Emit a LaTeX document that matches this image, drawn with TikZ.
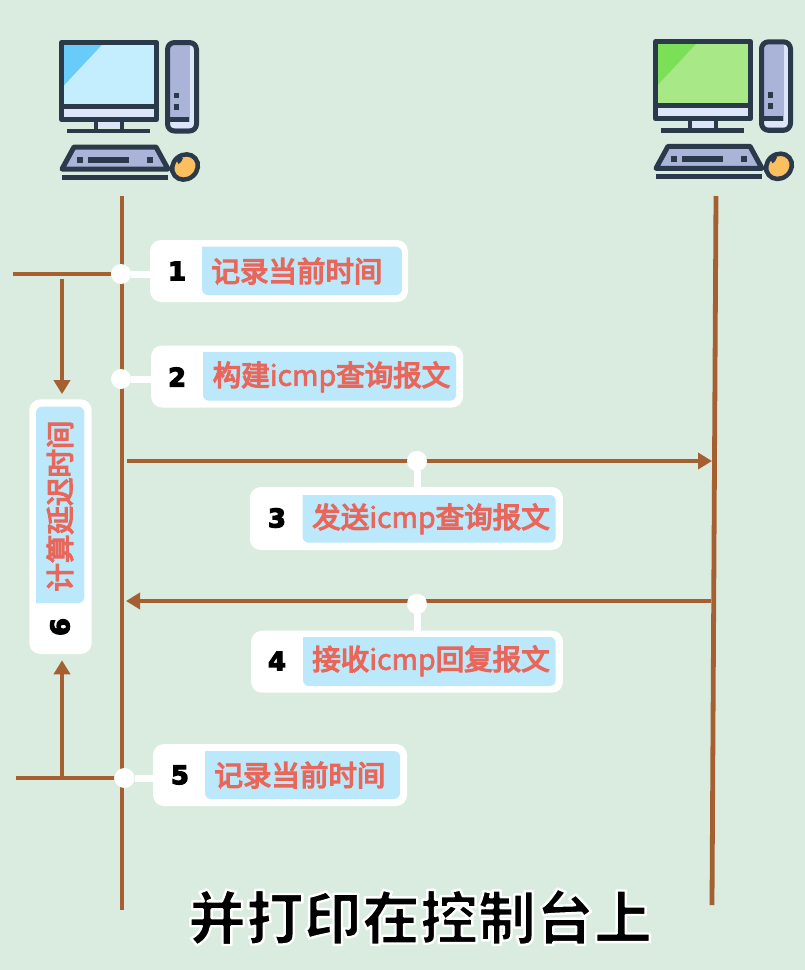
\documentclass[tikz,border=0pt]{standalone}
\usepackage{fontspec}
\usetikzlibrary{arrows.meta,calc}
\newfontfamily\cjk{Noto Sans CJK SC}
\newfontfamily\cjkm[FakeBold=4.5]{Noto Sans CJK SC}
\newfontfamily\cjkl[FakeBold=2]{Noto Sans CJK SC}
\newfontfamily\numfont[BoldFeatures={FakeBold=5}]{DejaVu Sans}
\definecolor{bgc}{HTML}{D9ECDF}
\definecolor{panelc}{HTML}{BBE9FB}
\definecolor{redc}{HTML}{E8665A}
\definecolor{brownc}{HTML}{A65F30}
\definecolor{darkc}{HTML}{2B3A4B}
\definecolor{lavc}{HTML}{AAB4D9}
\definecolor{lightc}{HTML}{DDE6F8}
\definecolor{mousec}{HTML}{FBBF5F}
\definecolor{blues}{HTML}{C4EDFE}
\definecolor{bluesh}{HTML}{68CBFA}
\definecolor{greens}{HTML}{A9E886}
\definecolor{greensh}{HTML}{7BE058}
\newcommand\icmpw{{\cjkl\mdseries\fontsize{28.5pt}{28.5pt}\selectfont icmp}}
\tikzset{
  whitebox/.style={fill=white,draw=none,rounded corners=11pt,inner sep=0pt},
  joint/.style={circle,fill=white,draw=none,minimum size=20pt,inner sep=0pt},
  tie/.style={draw=white,line width=7pt},
  life/.style={draw=brownc,line width=4.8pt},
  wire/.style={draw=brownc,line width=4.8pt},
  flow/.style={draw=brownc,line width=4.8pt,-{Triangle[width=16pt,length=14pt]}},
  numtxt/.style={inner sep=0pt,font=\numfont\bfseries\fontsize{25.5pt}{25.5pt}\selectfont,text=black},
  labeltxt/.style={inner sep=0pt,font=\cjkm\fontsize{28.5pt}{28.5pt}\selectfont,text=redc},
  ink/.style={draw=darkc,line width=5pt,line join=round},
}
\newcommand\computer[4]{%
\begin{scope}[shift={(#1,#2)}]
  % monitor
  \fill[#3] (61.5,42.5) rectangle (156.5,107);
  \fill[#4] (61.5,42.5) -- (104,42.5) -- (61.5,88) -- cycle;
  \fill[lightc] (61.5,107) rectangle (156.5,119.5);
  \draw[ink] (61.5,42.5) rectangle (156.5,119.5);
  \draw[ink] (61.5,106.5) -- (156.5,106.5);
  % stand
  \fill[lightc] (97,122) rectangle (121,128);
  \draw[darkc,line width=4pt] (96,120) -- (96,129) (122,120) -- (122,129);
  \draw[darkc,line width=4.6pt] (67,131) -- (150,131);
  % tower
  \fill[lavc,rounded corners=5pt] (167.5,42.5) rectangle (196.5,131);
  \fill[lightc] (190,46) rectangle (194,128);
  \fill[lightc] (170,122) rectangle (194,128);
  \draw[ink,rounded corners=7pt] (167.5,42.5) rectangle (196.5,131);
  \fill[darkc] (174.3,92.7) rectangle (179.3,98.3);
  \fill[darkc] (174.3,104) rectangle (179.3,110);
  \draw[darkc,line width=4.8pt] (167,119.3) -- (188.5,119.3);
  % keyboard
  \draw[ink,fill=lavc] (74,147) -- (156,147) -- (168,169) -- (62,169) -- cycle;
  \fill[darkc] (76.7,157) rectangle (82.7,163);
  \fill[darkc] (87.7,157) rectangle (129.3,163);
  \fill[darkc] (147,157) rectangle (153,163);
  \draw[darkc,line width=5pt] (62,177.5) -- (167.7,177.5);
  % mouse
  \draw[darkc,line width=4.5pt,fill=mousec,rotate around={40:(185,167)}] (185,167) ellipse (13.5pt and 12pt);
  \fill[darkc] (178,157) -- (183,158) -- (181,162) -- (178.5,164) -- (176.5,160) -- cycle;
\end{scope}}
\begin{document}
\begin{tikzpicture}[x=1pt,y=-1pt]
\useasboundingbox (0,0) rectangle (805,970);
\fill[bgc] (0,0) rectangle (805,970);
\computer{0}{0}{blues}{bluesh}
\computer{594}{-0.7}{greens}{greensh}

% named free ends
\coordinate (ltop) at (122,196);
\coordinate (lbot) at (122,910);
\coordinate (rtop) at (716,196);
\coordinate (rbot) at (712,905);
\coordinate (w1) at (13,274);
\coordinate (w5) at (16,778);
\coordinate (s6a) at (62,279);
\coordinate (s6b) at (62,776);
\coordinate (a3s) at (127,461);
\coordinate (a3e) at (712,461);
\coordinate (a4s) at (711,601);
\coordinate (a4e) at (126,601);

\draw[life] (ltop) -- (lbot);
\draw[life] (rtop) -- (rbot);

% boxes
\node[whitebox,minimum width=258pt,minimum height=62pt] (b1) at (279,271) {};
\node[whitebox,minimum width=312pt,minimum height=62pt] (b2) at (307,376.5) {};
\node[whitebox,minimum width=313pt,minimum height=63pt] (b3) at (406.3,518.5) {};
\node[whitebox,minimum width=312pt,minimum height=62pt] (b4) at (407,661.7) {};
\node[whitebox,minimum width=254pt,minimum height=62pt] (b5) at (280,775) {};
\node[whitebox,minimum width=62.4pt,minimum height=254.7pt] (b6) at (60.5,526.7) {};

\fill[panelc] (202,246.7) [rounded corners=6pt] -- (402,246.7) -- (402,295) -- (202,295) [sharp corners] -- cycle;
\fill[panelc] (203,352) [rounded corners=6pt] -- (456,352) -- (456,400.7) -- (203,400.7) [sharp corners] -- cycle;
\fill[panelc] (302.7,495) [rounded corners=6pt] -- (555.7,495) -- (555.7,542.7) -- (302.7,542.7) [sharp corners] -- cycle;
\fill[panelc] (303,637) [rounded corners=6pt] -- (555.7,637) -- (555.7,686) -- (303,686) [sharp corners] -- cycle;
\fill[panelc] (205,751) [rounded corners=6pt] -- (400,751) -- (400,799) -- (205,799) [sharp corners] -- cycle;
\fill[panelc] (36,603) [rounded corners=6pt] -- (36,406.7) -- (84.3,406.7) -- (84.3,603) [sharp corners] -- cycle;

% joints
\node[joint] (j1) at (121,274) {};
\node[joint] (j2) at (121,379) {};
\node[joint] (j3) at (417,461) {};
\node[joint] (j4) at (417,604) {};
\node[joint] (j5) at (124.5,778) {};

% connectors
\draw[tie] (j1) -- (b1.west |- j1);
\draw[tie] (j2) -- (b2.west |- j2);
\draw[tie] (j3) -- (b3.north -| j3);
\draw[tie] (j4) -- (b4.north -| j4);
\draw[tie] (j5) -- (b5.west |- j5);
\draw[wire] (w1) -- (j1);
\draw[wire] (w5) -- (j5);
\draw[flow] (s6a) -- ([xshift=1.5pt,yshift=5pt]b6.north);
\draw[flow] (s6b) -- ([xshift=1.5pt,yshift=-6pt]b6.south);
\draw[flow] (a3s) -- (a3e);
\draw[flow] (a4s) -- (a4e);
\node[joint] at (j3) {};
\node[joint] at (j4) {};

% numbers
\node[numtxt] (n1) at (177,271) {1};
\node[numtxt] (n2) at (177,377) {2};
\node[numtxt] (n3) at (277,518) {3};
\node[numtxt] (n4) at (277,661) {4};
\node[numtxt] (n5) at (180,775) {5};
\node[numtxt,rotate=90] (n6) at (60,627) {6};

% labels
\node[labeltxt] (t1) at (297,271) {记录当前时间};
\node[labeltxt] (t2) at (331.5,377) {构建\icmpw 查询报文};
\node[labeltxt] (t3) at (431,519) {发送\icmpw 查询报文};
\node[labeltxt] (t4) at (431,661) {接收\icmpw 回复报文};
\node[labeltxt] (t5) at (300,775) {记录当前时间};
\node[labeltxt,rotate=90] (t6) at (60,506) {计算延迟时间};

\node[inner sep=0pt,text=black] (cap) at (420,917) {\cjk\bfseries\fontsize{58pt}{58pt}\selectfont\special{pdf:code q 2 Tr 2.4 w 1 j 1 1 1 RG}并打印在控制台上\special{pdf:code Q}};
\end{tikzpicture}
\end{document}
